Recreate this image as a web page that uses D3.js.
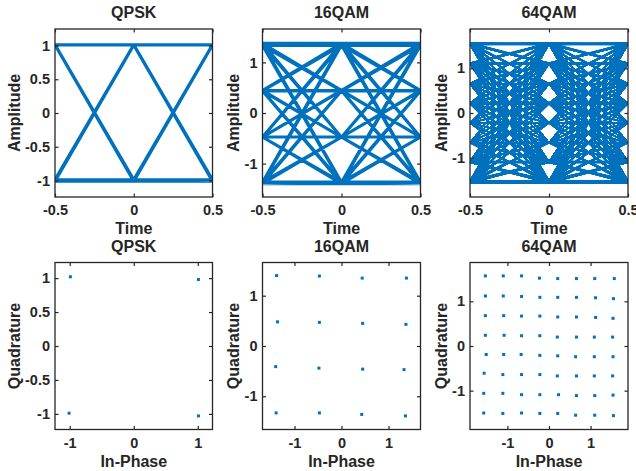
<!DOCTYPE html>
<html><head><meta charset="utf-8">
<script src="https://cdn.jsdelivr.net/npm/d3@7"></script>
<style>
html,body{margin:0;padding:0;background:#fff;}
svg{display:block;}
text{font-family:"Liberation Sans",Arial,sans-serif;font-weight:bold;fill:#262626;}
</style></head>
<body>
<script>
// ---------- data ----------
const titles = ["QPSK", "16QAM", "64QAM"];
const eyeTimeTicks = [-0.5, 0, 0.5];
const eyeYTicks = [[-1, -0.5, 0, 0.5, 1], [-1, 0, 1], [-1, 0, 1]];
const scatterXTicks = [[-1, 0, 1], [-1, 0, 1], [-1, 0, 1]];
const scatterYTicks = [[-1, -0.5, 0, 0.5, 1], [-1, 0, 1], [-1, 0, 1]];
const eyeYLimit = [1.245, 1.66, 1.88];
const scatterXLimit = [1.23, 1.68, 1.90];
const scatterYLimit = [1.23, 1.66, 1.87];

// received constellation (in-phase / quadrature)
const qpskI = [-0.99, 1.01, -1.01, 1.01];
const qpskQ = [1.02, 0.98, -0.99, -1.03];

const qam16I = [-1.38, -0.47, 0.44, 1.38,
                -1.36, -0.47, 0.45, 1.37,
                -1.40, -0.48, 0.45, 1.33,
                -1.39, -0.47, 0.43, 1.36];
const qam16Q = [1.40, 1.39, 1.35, 1.35,
                0.48, 0.47, 0.45, 0.43,
                -0.41, -0.44, -0.46, -0.47,
                -1.33, -1.33, -1.36, -1.39];

const qam64I = [-1.53, -1.10, -0.66, -0.23, 0.21, 0.66, 1.10, 1.57,
                -1.53, -1.10, -0.66, -0.22, 0.21, 0.66, 1.12, 1.55,
                -1.53, -1.09, -0.66, -0.22, 0.21, 0.66, 1.12, 1.54,
                -1.53, -1.08, -0.66, -0.22, 0.20, 0.66, 1.09, 1.53,
                -1.51, -1.09, -0.67, -0.22, 0.21, 0.64, 1.09, 1.54,
                -1.56, -1.11, -0.66, -0.22, 0.20, 0.66, 1.09, 1.53,
                -1.57, -1.11, -0.66, -0.22, 0.23, 0.66, 1.10, 1.54,
                -1.57, -1.11, -0.66, -0.22, 0.21, 0.64, 1.10, 1.55];
const qam64Q = [1.57, 1.57, 1.57, 1.52, 1.51, 1.51, 1.51, 1.51,
                1.12, 1.12, 1.11, 1.09, 1.09, 1.09, 1.08, 1.06,
                0.68, 0.68, 0.67, 0.67, 0.65, 0.65, 0.64, 0.62,
                0.24, 0.24, 0.23, 0.23, 0.20, 0.20, 0.20, 0.20,
                -0.19, -0.19, -0.19, -0.21, -0.22, -0.24, -0.24, -0.24,
                -0.61, -0.64, -0.64, -0.64, -0.67, -0.67, -0.67, -0.67,
                -1.06, -1.06, -1.09, -1.09, -1.09, -1.11, -1.11, -1.10,
                -1.50, -1.51, -1.50, -1.51, -1.51, -1.55, -1.55, -1.56];

const symI = [qpskI, qam16I, qam64I];
const symQ = [qpskQ, qam16Q, qam64Q];

// ---------- layout ----------
const W = 636, H = 471;
const colX = [[55, 212.5], [262.5, 420.5], [470, 628]];
const rowY = [[29, 197], [262.5, 429.5]];
const blue = "#0072BD";
const axisColor = "#262626";
const eyeStroke = [3.2, 2.6, 1];
const tickFont = 14.5, labelFont = 16, titleFont = 16;

const svg = d3.select("body").append("svg").attr("width", W).attr("height", H);

function fmt(v) { return String(v); }

function drawAxesFrame(g, x, y, xt, yt, w, h, xlabel, ylabel, title) {
  const tickLen = 3.5;
  const bottom = g.append("g").attr("transform", `translate(0,${h})`)
    .call(d3.axisBottom(x).tickValues(xt).tickSize(-tickLen).tickPadding(8).tickFormat(fmt));
  const top = g.append("g")
    .call(d3.axisTop(x).tickValues(xt).tickSize(-tickLen).tickFormat(""));
  const left = g.append("g")
    .call(d3.axisLeft(y).tickValues(yt).tickSize(-tickLen).tickPadding(5).tickFormat(fmt));
  const right = g.append("g").attr("transform", `translate(${w},0)`)
    .call(d3.axisRight(y).tickValues(yt).tickSize(-tickLen).tickFormat(""));
  [bottom, top, left, right].forEach(a => {
    a.select(".domain").remove();
    a.selectAll(".tick line").attr("stroke", axisColor).attr("stroke-width", 1.2);
    a.selectAll("text").attr("font-size", tickFont).attr("fill", axisColor)
      .attr("font-family", '"Liberation Sans", Arial, sans-serif').attr("font-weight", "bold");
  });
  bottom.selectAll("text").attr("dy", "0.71em");
  g.append("rect").attr("x", 0).attr("y", 0).attr("width", w).attr("height", h)
    .attr("fill", "none").attr("stroke", axisColor).attr("stroke-width", 1.3);

  let minX = 0;
  left.selectAll("text").each(function () {
    const b = this.getBBox();
    minX = Math.min(minX, b.x);
  });
  g.append("text").attr("x", w / 2).attr("y", h + 37).attr("text-anchor", "middle")
    .attr("font-size", labelFont).text(xlabel);
  g.append("text").attr("transform", `translate(${minX - 5.5},${h / 2}) rotate(-90)`)
    .attr("text-anchor", "middle").attr("font-size", labelFont).text(ylabel);
  g.append("text").attr("x", w / 2).attr("y", -11).attr("text-anchor", "middle")
    .attr("font-size", titleFont).text(title);
}

for (let c = 0; c < 3; c++) {
  // ----- eye diagram -----
  {
    const [x0, x1] = colX[c], [y0, y1] = rowY[0];
    const w = x1 - x0, h = y1 - y0;
    const g = svg.append("g").attr("transform", `translate(${x0},${y0})`);
    const x = d3.scaleLinear().domain([-0.5, 0.5]).range([0, w]);
    const y = d3.scaleLinear().domain([-eyeYLimit[c], eyeYLimit[c]]).range([h, 0]);
    const clip = "clipEye" + c;
    g.append("clipPath").attr("id", clip).append("rect").attr("width", w).attr("height", h);
    const line = d3.line().x(d => x(d[0])).y(d => y(d[1]));
    const vals = symI[c];
    let dstr = "";
    const halves = [[eyeTimeTicks[0], eyeTimeTicks[1]], [eyeTimeTicks[1], eyeTimeTicks[2]]];
    for (const [ta, tb] of halves) {
      for (const a of vals) for (const b of vals) dstr += line([[ta, a], [tb, b]]);
    }
    g.append("path").attr("clip-path", `url(#${clip})`).attr("d", dstr)
      .attr("fill", "none").attr("stroke", blue).attr("stroke-width", eyeStroke[c])
      .attr("stroke-linecap", "butt");
    drawAxesFrame(g, x, y, eyeTimeTicks, eyeYTicks[c], w, h, "Time", "Amplitude", titles[c]);
  }
  // ----- scatter plot -----
  {
    const [x0, x1] = colX[c], [y0, y1] = rowY[1];
    const w = x1 - x0, h = y1 - y0;
    const g = svg.append("g").attr("transform", `translate(${x0},${y0})`);
    const x = d3.scaleLinear().domain([-scatterXLimit[c], scatterXLimit[c]]).range([0, w]);
    const y = d3.scaleLinear().domain([-scatterYLimit[c], scatterYLimit[c]]).range([h, 0]);
    const pts = symI[c].map((v, i) => [v, symQ[c][i]]);
    g.selectAll("rect.pt").data(pts).enter().append("rect").attr("class", "pt")
      .attr("x", d => x(d[0]) - 1.5).attr("y", d => y(d[1]) - 1.5)
      .attr("width", 3).attr("height", 3).attr("fill", blue);
    drawAxesFrame(g, x, y, scatterXTicks[c], scatterYTicks[c], w, h, "In-Phase", "Quadrature", titles[c]);
  }
}
</script>
</body></html>
